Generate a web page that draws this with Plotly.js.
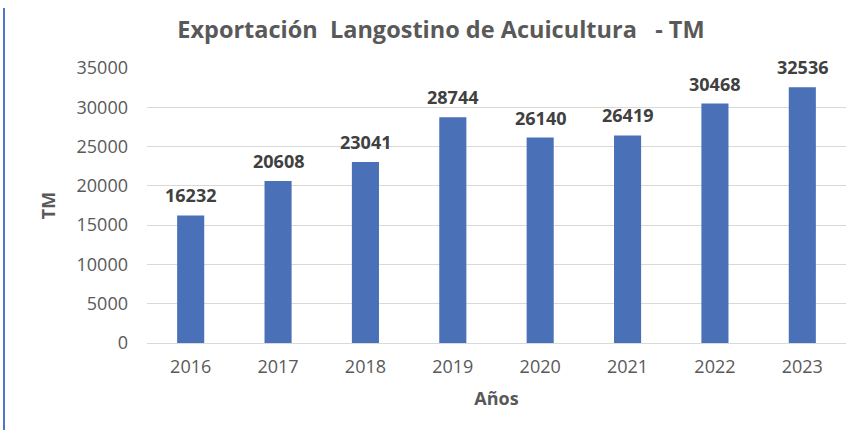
<!DOCTYPE html>
<html>
<head>
<meta charset="utf-8">
<script src="https://cdn.plot.ly/plotly-3.0.1.min.js"></script>
<style>
html,body{margin:0;padding:0;background:#fff;}
#wrap{position:relative;width:868px;height:430px;}
#leftline{position:absolute;left:3px;top:8px;width:2px;height:422px;background:#4f76c4;}
#chart{position:absolute;left:0;top:0;width:868px;height:430px;}
</style>
</head>
<body>
<div id="wrap"><div id="chart"></div><div id="leftline"></div></div>
<script>
const years = ['2016','2017','2018','2019','2020','2021','2022','2023'];
const tonnes = [16232, 20608, 23041, 28744, 26140, 26419, 30468, 32536];
const yTicks = [0, 5000, 10000, 15000, 20000, 25000, 30000, 35000];

const FONT = 'Open Sans, sans-serif';

const trace = {
  type: 'bar',
  x: years,
  y: tonnes,
  marker: {color: '#4a70b8'},
  hoverinfo: 'x+y'
};

// category axis positions are category indices
const annotations = years.map((yr, i) => ({
  x: i, y: tonnes[i], xref: 'x', yref: 'y',
  text: '<b>' + tonnes[i] + '</b>',
  showarrow: false, xanchor: 'center', yanchor: 'middle', yshift: 20,
  font: {family: FONT, size: 18, color: '#404040'}
}));

const layout = {
  width: 868, height: 430,
  margin: {l: 147, r: 22, t: 68, b: 87},
  paper_bgcolor: '#ffffff',
  plot_bgcolor: '#ffffff',
  bargap: 0.69,
  showlegend: false,
  annotations: annotations,
  title: {
    text: '<b>Exportación  Langostino de Acuicultura   - TM</b>',
    x: 0.508, xanchor: 'center', y: 0.93, yanchor: 'middle',
    font: {family: FONT, size: 23.5, color: '#595959'}
  },
  xaxis: {
    type: 'category',
    categoryorder: 'array', categoryarray: years,
    showgrid: false, showline: false, zeroline: false,
    ticks: '', ticklabelstandoff: 11,
    tickfont: {family: FONT, size: 18, color: '#595959'},
    title: {text: '<b>Años</b>', standoff: 15, font: {family: FONT, size: 18, color: '#595959'}}
  },
  yaxis: {
    range: [0, 35000],
    tickvals: yTicks,
    ticktext: yTicks.map(String),
    showgrid: true, gridcolor: '#d9d9d9', gridwidth: 1,
    zeroline: true, zerolinecolor: '#d9d9d9', zerolinewidth: 1,
    showline: false, ticks: '', ticklabelstandoff: 18,
    tickfont: {family: FONT, size: 18, color: '#595959'},
    title: {text: '<b>TM</b>', standoff: 16, font: {family: FONT, size: 18, color: '#595959'}}
  }
};

Plotly.newPlot('chart', [trace], layout, {displayModeBar: false, staticPlot: true});
</script>
</body>
</html>
